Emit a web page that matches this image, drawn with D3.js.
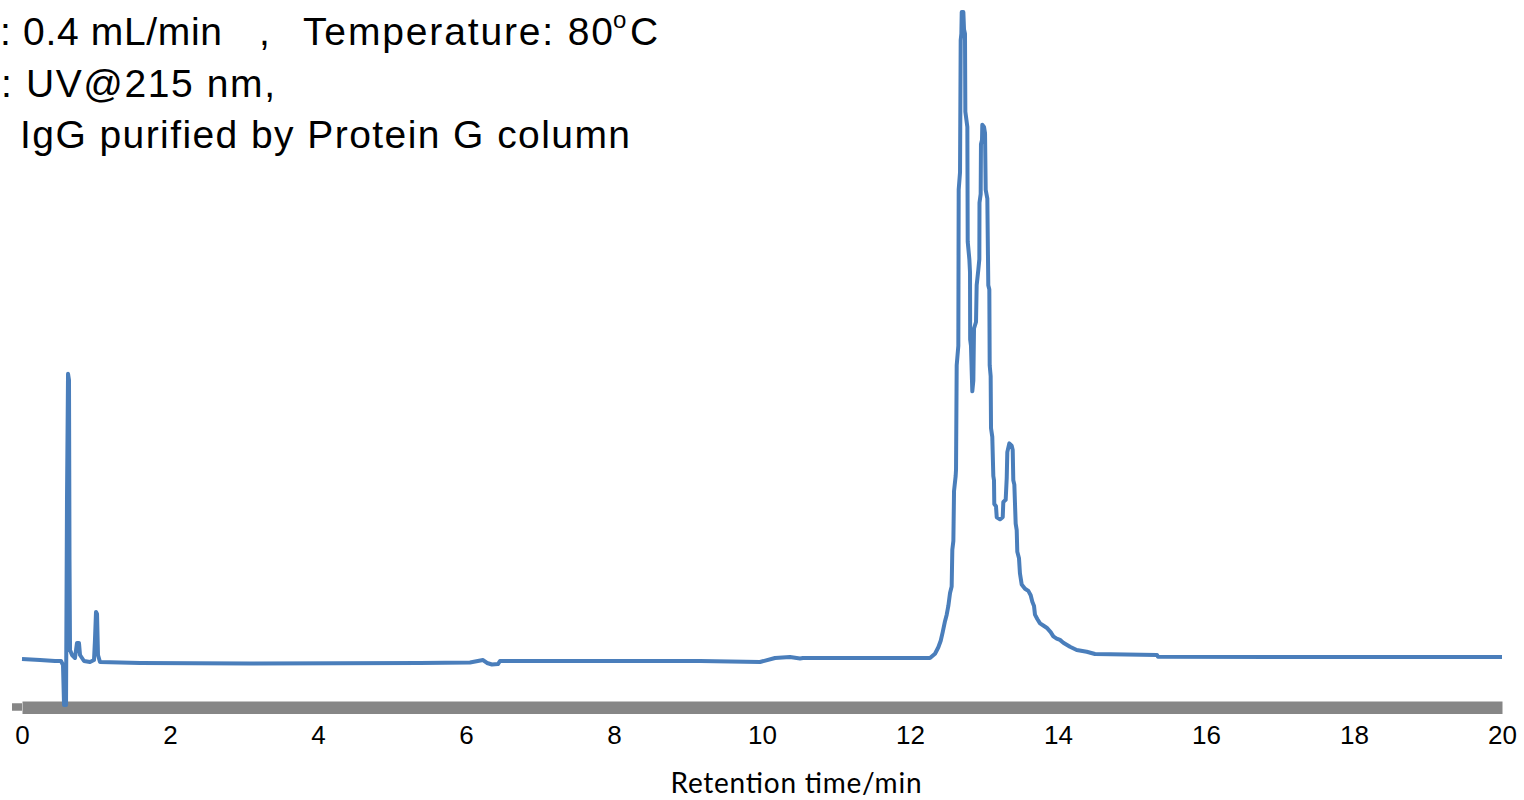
<!DOCTYPE html>
<html>
<head>
<meta charset="utf-8">
<script src="https://cdn.jsdelivr.net/npm/d3@7"></script>
<style>
  html, body { margin: 0; padding: 0; background: #fff; overflow: hidden; }
</style>
</head>
<body>
<div id="chart"></div>
<script>
// retention time (min) and detector signal (relative units)
const timeMin = [
    0, 0.243, 0.446, 0.527, 0.554, 0.568, 0.595, 0.608, 0.622, 0.635, 0.642, 0.649,
    0.676, 0.716, 0.743, 0.770, 0.784, 0.838, 0.919, 0.973, 0.986, 1.0, 1.014, 1.027,
    1.054, 1.595, 3.081, 5.378, 6.054, 6.230, 6.284, 6.351, 6.432, 6.459, 7.811, 9.162,
    9.973, 10.176, 10.378, 10.514, 10.554, 11.865, 12.203,
    12.270, 12.338, 12.383, 12.415, 12.442, 12.473, 12.496, 12.518, 12.541, 12.563, 12.572, 12.586,
    12.595, 12.617, 12.622, 12.631, 12.653, 12.658, 12.676, 12.685, 12.694, 12.699, 12.721, 12.730,
    12.743, 12.748, 12.775, 12.780, 12.802, 12.811, 12.813, 12.824, 12.834, 12.842, 12.856, 12.865,
    12.892, 12.901, 12.923, 12.937, 12.939, 12.955, 12.959, 12.973, 12.977, 13.000, 13.014, 13.023,
    13.045, 13.058, 13.072, 13.077, 13.090, 13.095, 13.112, 13.126, 13.135, 13.139, 13.162, 13.172,
    13.216, 13.253, 13.261, 13.293, 13.307, 13.315, 13.342, 13.374, 13.388, 13.396, 13.410, 13.428,
    13.442, 13.450, 13.473, 13.486, 13.509, 13.554, 13.599, 13.631, 13.653, 13.676, 13.689, 13.720,
    13.757, 13.801, 13.847, 13.901, 13.937, 13.982, 14.027, 14.072, 14.162, 14.253, 14.388, 14.500,
    15.338, 15.351, 17.270, 18.620, 20.0
];
const signal = [
    6.86, 6.71, 6.57, 6.57, 6.0, 0.29, 0.29, 29.6, 47.6, 46.7, 21.0, 8.14,
    7.43, 7.0, 9.14, 9.14, 7.43, 6.57, 6.43, 6.71, 9.57, 13.57, 13.29, 7.43,
    6.43, 6.29, 6.21, 6.29, 6.36, 6.71, 6.29, 6.07, 6.14, 6.57, 6.57, 6.57,
    6.43, 7.0, 7.14, 6.93, 7.0, 7.0, 7.0,
    6.99, 7.61, 8.54, 9.47, 10.70, 12.26, 13.19, 14.43, 16.29, 17.21, 22.47, 23.71,
    30.84, 33.0, 33.93, 48.8, 51.59, 73.89, 76.37, 95.26, 96.19, 99.29, 99.29, 96.8,
    96.19, 85.04, 82.87, 66.46, 63.97, 62.11, 52.51, 51.59, 47.87, 45.09, 46.63, 54.07,
    55.0, 60.26, 62.43, 63.97, 72.03, 73.27, 80.39, 81.01, 83.19, 82.87, 81.94, 73.89,
    72.64, 60.26, 59.64, 48.8, 47.26, 39.81, 38.59, 33.0, 32.39, 28.99, 28.67, 27.11,
    26.81, 27.11, 29.29, 29.6, 32.7, 36.41, 37.66, 37.34, 36.73, 32.39, 31.77, 26.19,
    25.26, 22.17, 21.24, 19.07, 17.51, 16.9, 16.59, 15.97, 15.04, 14.43, 13.19, 12.57,
    11.94, 11.64, 11.33, 10.7, 10.09, 9.77, 9.59, 9.19, 8.61, 8.14, 7.9, 7.57,
    7.43, 7.19, 7.14, 7.14, 7.14
];
const xTicks = [0, 2, 4, 6, 8, 10, 12, 14, 16, 18, 20];
const xTitle = "Retention time/min";

const noteFlow = ": 0.4 mL/min";
const noteSep = ",";
const noteTemp = "Temperature:  80";
const noteDeg = "o";
const noteUnit = "C";
const noteDetect = ": UV@215  nm,";
const noteSample = "IgG purified by Protein G column";

const width = 1524, height = 800;

const svg = d3.select("#chart")
    .append("svg")
    .attr("width", width)
    .attr("height", height)
    .style("display", "block");

const x = d3.scaleLinear()
    .domain([0, 20])
    .range([22, 1502]);

const y = d3.scaleLinear()
    .domain([0, 100])
    .range([707, 7]);

// axis: thick grey bar, no ticks
const axisG = svg.append("g")
    .attr("transform", `translate(0,${y(0) + 0.3})`)
    .call(d3.axisBottom(x).tickValues(xTicks).tickSize(0).tickSizeOuter(0).tickFormat(d3.format("d")));

axisG.select(".domain")
    .attr("stroke", "#868686")
    .attr("stroke-width", 12.5);

axisG.selectAll(".tick text")
    .attr("y", 37)
    .attr("dy", null)
    .attr("fill", "#000")
    .style("font-family", "'Liberation Sans', Arial, sans-serif")
    .style("font-size", "26px");

// small stub on the left end of the axis
svg.append("line")
    .attr("x1", x(0) - 10)
    .attr("x2", x(0))
    .attr("y1", y(0))
    .attr("y2", y(0))
    .attr("stroke", "#868686")
    .attr("stroke-width", 7.5);

svg.append("text")
    .attr("x", 796)
    .attr("y", 793)
    .attr("text-anchor", "middle")
    .attr("textLength", 251)
    .style("font-family", "Lato, 'Open Sans', sans-serif")
    .style("font-size", "28px")
    .attr("fill", "#000")
    .text(xTitle);

// chromatogram trace
const line = d3.line()
    .x((d, i) => x(timeMin[i]))
    .y(d => y(d));

svg.append("path")
    .datum(signal)
    .attr("d", line)
    .attr("fill", "none")
    .attr("stroke", "#4a7ebb")
    .attr("stroke-width", 4)
    .attr("stroke-linejoin", "round");

// run conditions (cut off at the left edge in the original)
const noteFont = "'Liberation Sans', Arial, sans-serif";
const noteSize = "39px";

const l1 = svg.append("text")
    .attr("y", 45)
    .style("font-family", noteFont)
    .style("font-size", noteSize)
    .attr("fill", "#000");
l1.append("tspan").attr("x", 0).attr("textLength", 222).text(noteFlow);
l1.append("tspan").attr("x", 259).text(noteSep);
l1.append("tspan").attr("x", 303).attr("textLength", 310).text(noteTemp);
l1.append("tspan").attr("x", 613).attr("dy", -17).style("font-size", "24px").text(noteDeg);
l1.append("tspan").attr("x", 630).attr("dy", 17).text(noteUnit);

svg.append("text")
    .attr("x", 1)
    .attr("y", 97)
    .attr("textLength", 274)
    .style("font-family", noteFont)
    .style("font-size", noteSize)
    .attr("fill", "#000")
    .text(noteDetect);

svg.append("text")
    .attr("x", 20)
    .attr("y", 148)
    .attr("textLength", 610)
    .style("font-family", noteFont)
    .style("font-size", noteSize)
    .attr("fill", "#000")
    .text(noteSample);
</script>
</body>
</html>
